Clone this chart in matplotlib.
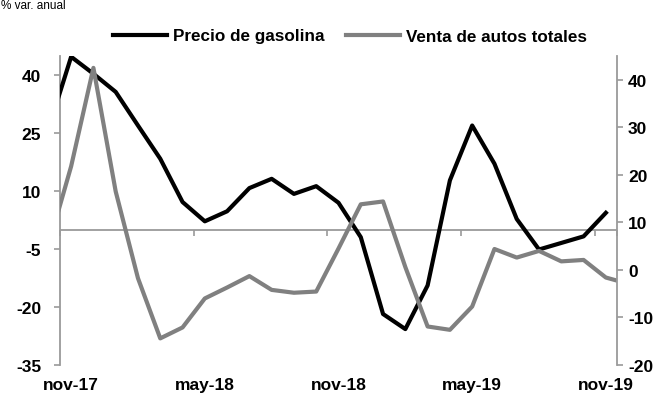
import matplotlib
matplotlib.use("Agg")
import matplotlib.pyplot as plt

plt.rcParams['font.family'] = ['Liberation Sans', 'DejaVu Sans']
plt.rcParams['axes.unicode_minus'] = False

# months oct-17 .. dec-19 (index -1 .. 25), labels every 6 months
x_labels = ["nov-17", "may-18", "nov-18", "may-19", "nov-19"]
label_pos = [0, 6, 12, 18, 24]

# Precio de gasolina (left axis), oct-17 .. nov-19
gasolina = [26.4, 44.8, 40.4, 35.7, 27.0, 18.4, 7.2, 2.2, 4.8, 10.8, 13.2, 9.3,
            11.3, 7.0, -1.9, -21.8, -25.7, -14.4, 12.8, 27.0, 17.1, 2.8, -5.1,
            -3.4, -1.7, 4.4]
# Venta de autos totales (right axis), oct-17 .. dec-19
autos = [5.4, 21.8, 42.5, 16.5, -1.75, -14.4, -12.1, -6.0, -3.7, -1.3, -4.2,
         -4.8, -4.55, 4.5, 13.8, 14.4, 0.6, -11.9, -12.6, -7.7, 4.4, 2.6, 4.0,
         1.8, 2.1, -1.6, -2.9]

x_gas = list(range(-1, len(gasolina) - 1))
x_aut = list(range(-1, len(autos) - 1))

grey = "#808080"
axis_grey = "#9a9a9a"

fig = plt.figure(figsize=(6.64, 4.02), dpi=100)
ax = fig.add_axes([60 / 664, 1 - 366 / 402, 557 / 664, 309 / 402])
ax2 = ax.twinx()

ax.axhline(0, color=axis_grey, lw=1.3, zorder=1)
bounds = [p - 0.5 for p in range(0, 25, 6)] + [24.5]
ax.plot(bounds, [0] * len(bounds), marker=3, ms=4, mew=1.2, color=axis_grey,
        ls="none", clip_on=False, zorder=1)

l1, = ax.plot(x_gas, gasolina, color="black", lw=3.0, label="Precio de gasolina",
              zorder=3)
l2, = ax2.plot(x_aut, autos, color=grey, lw=3.0, label="Venta de autos totales")

ax.set_xlim(-0.5, 24.5)
ax.set_ylim(-35, 45)
ax2.set_ylim(-20, 45)
ax.set_yticks([-35, -20, -5, 10, 25, 40])
ax2.set_yticks([-20, -10, 0, 10, 20, 30, 40])

ax.set_xticks(label_pos)
ax.set_xticklabels(x_labels, fontsize=12.5, fontweight="bold")
ax.tick_params(axis="x", length=0, pad=9)
ax.tick_params(axis="y", length=4.5, width=1.2, color=axis_grey, pad=9,
               labelsize=12.5)
ax2.tick_params(axis="y", length=4.5, width=1.2, color=axis_grey, pad=3.5,
                labelsize=12.5)
for lab in ax.get_yticklabels() + ax2.get_yticklabels():
    lab.set_fontweight("bold")

for a in (ax, ax2):
    a.spines["top"].set_visible(False)
    a.spines["bottom"].set_visible(False)
    a.spines["left"].set_color(axis_grey)
    a.spines["right"].set_color(axis_grey)
    a.spines["left"].set_linewidth(1.3)
    a.spines["right"].set_linewidth(1.3)
ax.spines["right"].set_visible(False)
ax2.spines["left"].set_visible(False)

fig.legend(handles=[l1, l2], loc="center", bbox_to_anchor=(0.527, 1 - 37 / 402),
           ncol=2, frameon=False, handlelength=3.15, handletextpad=0.35,
           columnspacing=1.3, prop={"size": 12.3, "weight": "bold"})

fig.text(0.002, 1 - 9 / 402, "% var. anual", fontsize=8.5, va="baseline",
         ha="left")

fig.savefig("out.png", dpi=100)
